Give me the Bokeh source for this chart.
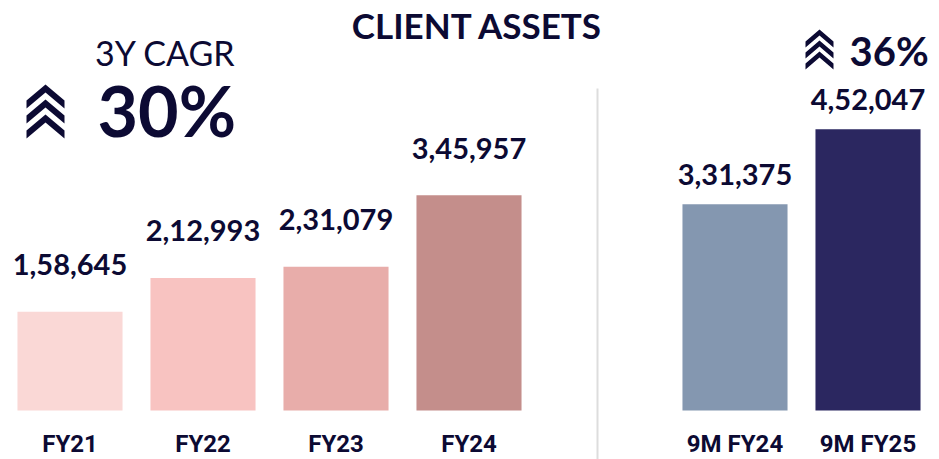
from bokeh.plotting import figure
from bokeh.models import ColumnDataSource, Range1d
from bokeh.core.properties import value
from bokeh.embed import file_html
from bokeh.resources import INLINE

# ---------------- data ----------------
annual_cats = ["FY21", "FY22", "FY23", "FY24"]
annual_vals = [158645, 212993, 231079, 345957]
annual_colors = ["#FAD8D6", "#F8C3C1", "#E8ADAA", "#C48E8B"]

nine_cats = ["9M FY24", "9M FY25"]
nine_vals = [331375, 452047]
nine_colors = ["#8497B0", "#2B2760"]

title_text = "CLIENT ASSETS"
cagr_label = "3Y CAGR"
cagr_value = "30%"
yoy_value = "36%"

# ---------------- layout ----------------
W, H = 939, 459
X0_PX, SLOT_PX = 69.5, 133.0          # canvas px of slot 0, slot width
BASE_PX, UPP = 410.0, 1607.0          # canvas px of value 0, value units per px
x_start = -X0_PX / SLOT_PX
x_end = (W - X0_PX) / SLOT_PX
y_start = -(H - BASE_PX) * UPP
y_end = BASE_PX * UPP


def dx(px):
    return x_start + px / SLOT_PX


def dy(py):
    return y_end - py * UPP


def indian(n):
    s = str(int(n))
    last3, rest = s[-3:], s[:-3]
    groups = []
    while len(rest) > 2:
        groups.insert(0, rest[-2:])
        rest = rest[:-2]
    if rest:
        groups.insert(0, rest)
    return ",".join(groups + [last3])


INK = "#0C0A33"
VAL_FONT = value("Lato")
CAT_FONT = value("Roboto")

p = figure(width=W, height=H, output_backend="svg", toolbar_location=None,
           x_range=Range1d(x_start, x_end), y_range=Range1d(y_start, y_end),
           min_border=0, min_border_left=0, min_border_right=0,
           min_border_top=0, min_border_bottom=0)
p.axis.visible = False
p.grid.visible = False
p.outline_line_color = None
p.background_fill_color = "white"
p.border_fill_color = "white"

groups = [
    (0, annual_cats, annual_vals, annual_colors, -47),
    (5, nine_cats, nine_vals, nine_colors, -30),
]
for offset, cats, vals, cols, lab_off in groups:
    src = ColumnDataSource(dict(
        x=[offset + i for i in range(len(cats))],
        top=vals,
        color=cols,
        cat=cats,
        lab=[indian(v) for v in vals],
        zero=[0] * len(vals),
    ))
    p.vbar(x="x", top="top", bottom=0, width=0.79, fill_color="color",
           line_color=None, source=src)
    p.text(x="x", y="top", text="lab", source=src, y_offset=lab_off,
           text_align="center", text_baseline="middle",
           text_font=VAL_FONT, text_font_style="bold", text_font_size="29px",
           text_color=INK)
    p.text(x="x", y="zero", text="cat", source=src, y_offset=33,
           text_align="center", text_baseline="middle",
           text_font=CAT_FONT, text_font_style="bold", text_font_size="24px",
           text_color=INK)

# separator
p.segment(x0=[dx(597)], y0=[dy(88)], x1=[dx(597)], y1=[dy(H)],
          line_color="#DDDDDD", line_width=2)

# title and annotations
p.text(x=[dx(477)], y=[dy(24)], text=[title_text], text_align="center",
       text_baseline="middle", text_font=VAL_FONT, text_font_style="bold",
       text_font_size="35px", text_color=INK)
p.text(x=[dx(165)], y=[dy(52)], text=[cagr_label], text_align="center",
       text_baseline="middle", text_font=VAL_FONT, text_font_style="normal",
       text_font_size="34px", text_color=INK)
p.text(x=[dx(97)], y=[dy(109)], text=[cagr_value], text_align="left",
       text_baseline="middle", text_font=VAL_FONT, text_font_style="bold",
       text_font_size="70px", text_color=INK)
p.text(x=[dx(849)], y=[dy(50)], text=[yoy_value], text_align="left",
       text_baseline="middle", text_font=VAL_FONT, text_font_style="bold",
       text_font_size="40px", text_color=INK)


# chevron icons (decoration)
def chevrons(x0, xc, x1, peaks, h, t):
    xs, ys = [], []
    for pk in peaks:
        pts = [(x0, pk + h), (xc, pk), (x1, pk + h),
               (x1, pk + h + t), (xc, pk + t), (x0, pk + h + t)]
        xs.append([dx(a) for a, b in pts])
        ys.append([dy(b) for a, b in pts])
    p.patches(xs=xs, ys=ys, fill_color=INK, line_color=None)


chevrons(26, 45, 64, [84, 99, 114], 16, 8)
chevrons(805, 819, 833, [29, 40, 51], 12, 6)

open("out.html", "w").write(file_html(p, INLINE))
